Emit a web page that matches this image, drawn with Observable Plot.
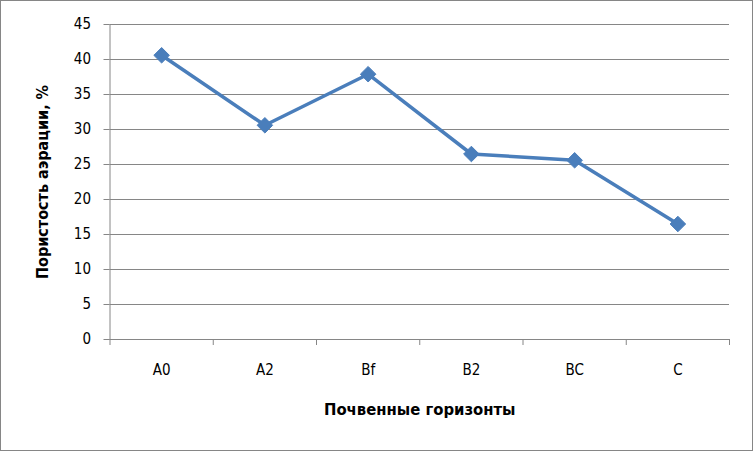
<!DOCTYPE html>
<html><head><meta charset="utf-8">
<script src="https://cdn.jsdelivr.net/npm/d3@7"></script>
<script src="https://cdn.jsdelivr.net/npm/@observablehq/plot@0.6"></script>
<style>
html,body{margin:0;padding:0;background:#fff;}
#chart{width:753px;height:451px;}
svg{overflow:visible;}
</style></head><body><div id="chart"></div>
<script>
const categories = ["A0","A2","Bf","B2","BC","C"];
const values = [40.6, 30.6, 37.9, 26.5, 25.6, 16.5];
const yTicks = [0,5,10,15,20,25,30,35,40,45];
const yTitle = "Пористость аэрации, %";
const xTitle = "Почвенные горизонты";

const data = categories.map((c,i)=>({idx:i+0.5, cat:c, v:values[i]}));
const bounds = d3.range(categories.length+1);
const font = "'Liberation Sans Narrow','DejaVu Sans Condensed','Open Sans',sans-serif";

const plot = Plot.plot({
  width:753, height:451,
  marginLeft:109.5, marginRight:24, marginTop:24, marginBottom:112,
  style:{fontFamily:font, fontSize:"15px", color:"#000", background:"#fff", overflow:"visible"},
  x:{domain:[0,categories.length]},
  y:{domain:[0,45]},
  marks:[
    Plot.gridY(yTicks,{stroke:"#868686", strokeOpacity:1, strokeWidth:1}),
    Plot.ruleX([0],{stroke:"#868686"}),
    Plot.ruleY([0],{stroke:"#868686"}),
    Plot.axisY({ticks:yTicks, tickSize:6, tickPadding:13, stroke:"#868686", fill:"#000", label:null, fontSize:15}),
    Plot.axisX({ticks:bounds, tickSize:6, tickFormat:()=>"", stroke:"#868686", label:null}),
    Plot.axisX({ticks:data.map(d=>d.idx), tickSize:0, tickPadding:25, tickFormat:(t)=>categories[Math.round(t-0.5)], fill:"#000", label:null, fontSize:15}),
    Plot.line(data,{x:"idx", y:"v", stroke:"#4a7ebb", strokeWidth:3.5}),
    Plot.dot(data,{x:"idx", y:"v", symbol:"diamond2", r:7, fill:"#4a7ebb", stroke:"#4a7ebb", strokeWidth:1}),
    Plot.text([yTitle],{frameAnchor:"left", textAnchor:"middle", rotate:-90, dx:-67, fontWeight:"bold", fontSize:16, fill:"#000"}),
    Plot.text([xTitle],{frameAnchor:"bottom", dy:75, fontWeight:"bold", fontSize:16.5, fill:"#000"})
  ]
});
const wrap=document.createElement("div");
wrap.style.cssText="position:relative;width:753px;height:451px;";
wrap.appendChild(plot);
const frame=document.createElement("div");
frame.style.cssText="position:absolute;left:0;top:0;width:751px;height:449px;border:1px solid #868686;pointer-events:none;";
wrap.appendChild(frame);
document.getElementById("chart").appendChild(wrap);
</script></body></html>
